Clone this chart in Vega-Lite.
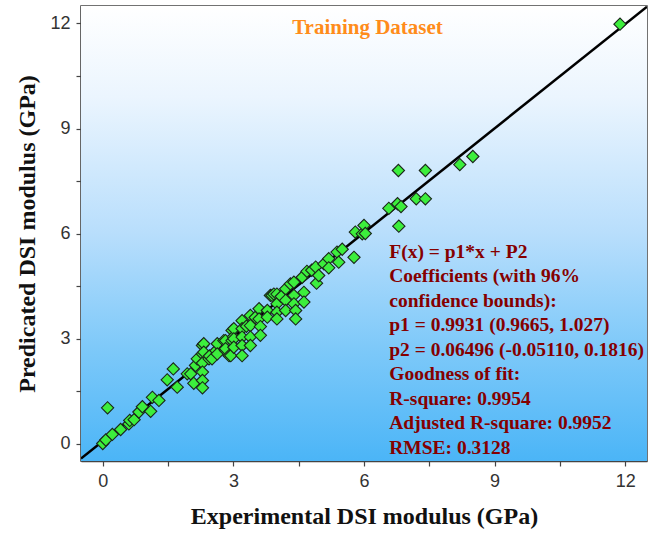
{
  "$schema": "https://vega.github.io/schema/vega-lite/v6.json",
  "width": 566,
  "height": 455,
  "autosize": {"type": "none"},
  "padding": {"left": 81, "top": 6, "right": 11, "bottom": 77},
  "background": "white",
  "config": {
    "view": {"stroke": "#444444", "strokeWidth": 1.5},
    "axis": {
      "grid": false,
      "domainColor": "#444444",
      "domainWidth": 1.5,
      "tickColor": "#444444",
      "tickWidth": 1.2,
      "tickSize": 5,
      "labelFont": "Liberation Sans",
      "labelFontSize": 18,
      "labelColor": "#333333",
      "labelFlush": false,
      "titleFont": "Liberation Serif",
      "titleFontSize": 24,
      "titleFontWeight": "bold",
      "titleColor": "#111111"
    }
  },
  "datasets": {
    "points": [
      {"exp": 0.0, "pred": 0.0}, {"exp": 0.07, "pred": 0.1}, {"exp": 0.11, "pred": 1.02}, {"exp": 0.22, "pred": 0.26},
      {"exp": 0.41, "pred": 0.4}, {"exp": 0.6, "pred": 0.56}, {"exp": 0.62, "pred": 0.66}, {"exp": 0.72, "pred": 0.68},
      {"exp": 0.83, "pred": 0.9}, {"exp": 0.91, "pred": 1.05}, {"exp": 1.1, "pred": 0.92}, {"exp": 1.14, "pred": 1.32},
      {"exp": 1.29, "pred": 1.23}, {"exp": 1.48, "pred": 1.82}, {"exp": 1.62, "pred": 2.13}, {"exp": 1.71, "pred": 1.61},
      {"exp": 1.94, "pred": 1.99}, {"exp": 2.02, "pred": 1.99}, {"exp": 2.09, "pred": 1.72}, {"exp": 2.13, "pred": 2.23},
      {"exp": 2.17, "pred": 2.42}, {"exp": 2.29, "pred": 2.8}, {"exp": 2.29, "pred": 2.56}, {"exp": 2.29, "pred": 2.3},
      {"exp": 2.29, "pred": 2.04}, {"exp": 2.29, "pred": 1.8}, {"exp": 2.29, "pred": 1.59}, {"exp": 2.32, "pred": 2.85},
      {"exp": 2.32, "pred": 2.61}, {"exp": 2.44, "pred": 2.42}, {"exp": 2.45, "pred": 2.5}, {"exp": 2.51, "pred": 2.42},
      {"exp": 2.6, "pred": 2.65}, {"exp": 2.63, "pred": 2.85}, {"exp": 2.63, "pred": 2.56}, {"exp": 2.78, "pred": 2.94},
      {"exp": 2.82, "pred": 2.94}, {"exp": 2.82, "pred": 2.66}, {"exp": 2.82, "pred": 2.71}, {"exp": 2.9, "pred": 2.51},
      {"exp": 2.94, "pred": 2.51}, {"exp": 2.97, "pred": 3.23}, {"exp": 2.97, "pred": 2.94}, {"exp": 3.0, "pred": 3.05},
      {"exp": 3.01, "pred": 3.28}, {"exp": 3.01, "pred": 2.99}, {"exp": 3.01, "pred": 2.75}, {"exp": 3.2, "pred": 3.51},
      {"exp": 3.2, "pred": 3.28}, {"exp": 3.2, "pred": 3.04}, {"exp": 3.2, "pred": 2.8}, {"exp": 3.2, "pred": 2.51},
      {"exp": 3.3, "pred": 3.35}, {"exp": 3.39, "pred": 3.66}, {"exp": 3.39, "pred": 3.37}, {"exp": 3.39, "pred": 3.04},
      {"exp": 3.39, "pred": 2.8}, {"exp": 3.5, "pred": 3.6}, {"exp": 3.59, "pred": 3.85}, {"exp": 3.59, "pred": 3.56},
      {"exp": 3.62, "pred": 3.34}, {"exp": 3.62, "pred": 3.09}, {"exp": 3.78, "pred": 3.8}, {"exp": 3.78, "pred": 3.61},
      {"exp": 3.85, "pred": 4.23}, {"exp": 3.89, "pred": 4.23}, {"exp": 3.93, "pred": 4.27}, {"exp": 4.0, "pred": 4.27},
      {"exp": 4.0, "pred": 3.99}, {"exp": 4.0, "pred": 3.75}, {"exp": 4.0, "pred": 3.56}, {"exp": 4.1, "pred": 4.2},
      {"exp": 4.2, "pred": 4.42}, {"exp": 4.2, "pred": 4.09}, {"exp": 4.2, "pred": 3.8}, {"exp": 4.31, "pred": 4.56},
      {"exp": 4.39, "pred": 4.61}, {"exp": 4.39, "pred": 4.23}, {"exp": 4.39, "pred": 3.99}, {"exp": 4.43, "pred": 3.8},
      {"exp": 4.43, "pred": 3.56}, {"exp": 4.58, "pred": 4.75}, {"exp": 4.62, "pred": 4.32}, {"exp": 4.62, "pred": 4.04},
      {"exp": 4.69, "pred": 4.92}, {"exp": 4.8, "pred": 4.95}, {"exp": 4.89, "pred": 5.04}, {"exp": 4.91, "pred": 4.58},
      {"exp": 4.96, "pred": 4.8}, {"exp": 5.08, "pred": 5.13}, {"exp": 5.19, "pred": 5.28}, {"exp": 5.19, "pred": 5.02},
      {"exp": 5.38, "pred": 5.47}, {"exp": 5.42, "pred": 5.18}, {"exp": 5.5, "pred": 5.55}, {"exp": 5.77, "pred": 5.32},
      {"exp": 5.8, "pred": 6.04}, {"exp": 5.96, "pred": 5.99}, {"exp": 6.0, "pred": 6.23}, {"exp": 6.03, "pred": 6.0},
      {"exp": 6.57, "pred": 6.72}, {"exp": 6.77, "pred": 6.85}, {"exp": 6.85, "pred": 6.77}, {"exp": 6.8, "pred": 6.21},
      {"exp": 6.79, "pred": 7.8}, {"exp": 7.2, "pred": 6.99}, {"exp": 7.41, "pred": 6.99}, {"exp": 7.41, "pred": 7.8},
      {"exp": 8.2, "pred": 7.97}, {"exp": 8.5, "pred": 8.2}, {"exp": 11.88, "pred": 11.98}
    ],
    "fit": [
      {"exp": -0.5, "pred": -0.432},
      {"exp": 12.5, "pred": 12.479}
    ],
    "one": [{}]
  },
  "layer": [
    {
      "data": {"name": "one"},
      "mark": {
        "type": "rect",
        "fill": {
          "gradient": "linear",
          "x1": 0, "y1": 0, "x2": 0, "y2": 1,
          "stops": [
            {"offset": 0, "color": "#ffffff"},
            {"offset": 0.2, "color": "#ebf5fe"},
            {"offset": 0.5, "color": "#b8defc"},
            {"offset": 0.75, "color": "#7ec9f9"},
            {"offset": 1, "color": "#4bb5f7"}
          ]
        }
      },
      "encoding": {
        "x": {"datum": -0.5, "type": "quantitative", "title": "Experimental DSI modulus (GPa)"},
        "x2": {"datum": 12.5},
        "y": {"datum": -0.5, "type": "quantitative", "title": "Predicated DSI modulus (GPa)"},
        "y2": {"datum": 12.5}
      }
    },
    {
      "data": {"name": "fit"},
      "mark": {"type": "line", "color": "#000000", "strokeWidth": 2.5, "clip": true},
      "encoding": {
        "x": {"field": "exp", "type": "quantitative", "title": "Experimental DSI modulus (GPa)"},
        "y": {"field": "pred", "type": "quantitative", "title": "Predicated DSI modulus (GPa)"}
      }
    },
    {
      "data": {"name": "points"},
      "mark": {"type": "point", "shape": "diamond", "filled": true, "size": 150, "fill": "#3cee3c", "stroke": "#1a261a", "strokeWidth": 1.1, "opacity": 1},
      "encoding": {
        "x": {
          "field": "exp", "type": "quantitative",
          "title": "Experimental DSI modulus (GPa)",
          "scale": {"domain": [-0.5, 12.5], "nice": false, "zero": false},
          "axis": {
            "values": [0, 1.5, 3, 4.5, 6, 7.5, 9, 10.5, 12],
            "labelExpr": "datum.value % 3 === 0 ? datum.label : ''",
            "labelPadding": 6,
            "titlePadding": 14
          }
        },
        "y": {
          "field": "pred", "type": "quantitative",
          "title": "Predicated DSI modulus (GPa)",
          "scale": {"domain": [-0.5, 12.5], "nice": false, "zero": false},
          "axis": {
            "values": [0, 1.5, 3, 4.5, 6, 7.5, 9, 10.5, 12],
            "labelExpr": "datum.value % 3 === 0 ? datum.label : ''",
            "labelPadding": 6,
            "titlePadding": 10
          }
        }
      }
    },
    {
      "data": {"name": "one"},
      "mark": {"type": "text", "text": "Training Dataset", "font": "Liberation Serif", "fontSize": 21, "fontWeight": "bold", "color": "#ff8c1a", "align": "center", "baseline": "alphabetic"},
      "encoding": {
        "x": {"datum": 6.08, "type": "quantitative", "title": "Experimental DSI modulus (GPa)"},
        "y": {"datum": 11.69, "type": "quantitative", "title": "Predicated DSI modulus (GPa)"}
      }
    },
    {
      "data": {"name": "one"},
      "mark": {
        "type": "text",
        "text": ["F(x) = p1*x + P2", "Coefficients (with 96%", "confidence bounds):", "p1 = 0.9931 (0.9665, 1.027)", "p2 = 0.06496 (-0.05110, 0.1816)", "Goodness of fit:", "R-square: 0.9954", "Adjusted R-square: 0.9952", "RMSE: 0.3128"],
        "font": "Liberation Serif", "fontSize": 19.5, "fontWeight": "bold", "color": "#850000",
        "align": "left", "baseline": "alphabetic", "lineHeight": 24.5
      },
      "encoding": {
        "x": {"datum": 6.58, "type": "quantitative", "title": "Experimental DSI modulus (GPa)"},
        "y": {"datum": 5.31, "type": "quantitative", "title": "Predicated DSI modulus (GPa)"}
      }
    }
  ]
}
